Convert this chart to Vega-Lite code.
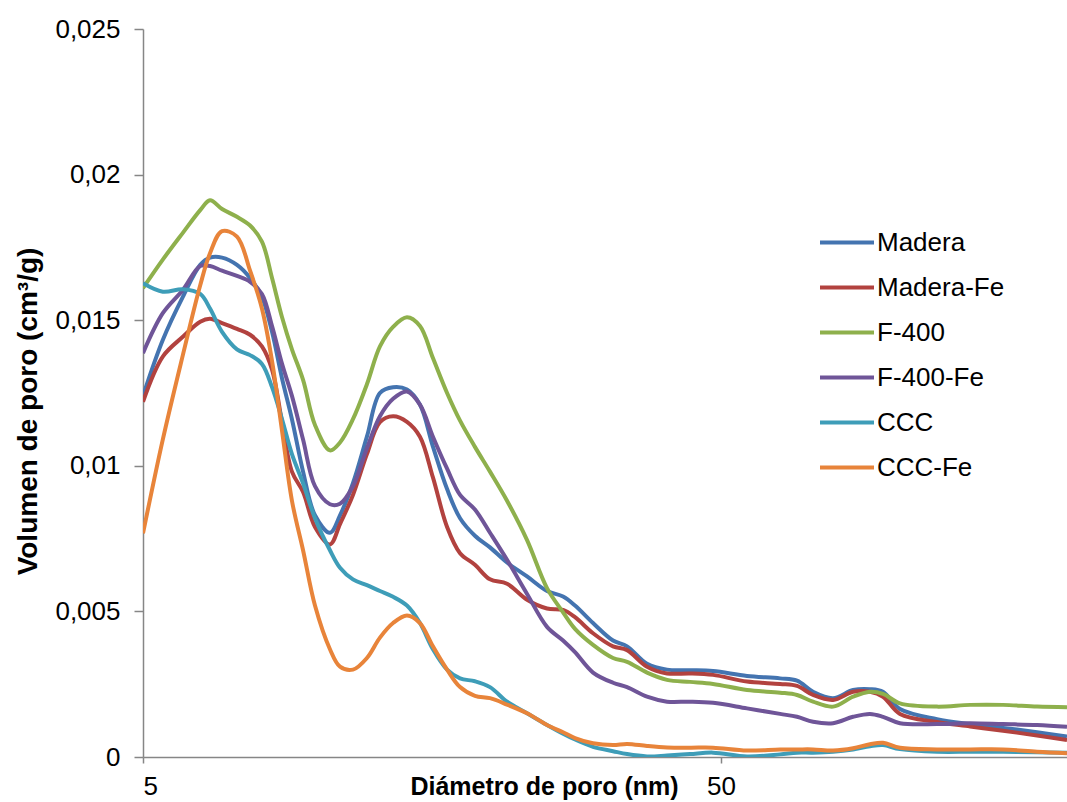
{
  "$schema": "https://vega.github.io/schema/vega-lite/v6.json",
  "width": 926,
  "height": 728,
  "autosize": {"type": "none"},
  "padding": {"left": 143, "top": 29, "right": 0, "bottom": 45},
  "background": "white",
  "config": {
    "view": {"stroke": null},
    "font": "Liberation Sans",
    "axis": {"grid": false, "domainColor": "#868686", "domainWidth": 1.5, "tickColor": "#868686", "tickWidth": 1.5, "labelColor": "black", "titleColor": "black", "labelFont": "Liberation Sans", "titleFont": "Liberation Sans"}
  },
  "data": {
    "values": [
      {"d": 5.00, "Madera": 0.0124, "Madera-Fe": 0.0122, "F-400": 0.0161, "F-400-Fe": 0.01387, "CCC": 0.01627, "CCC-Fe": 0.00768},
      {"d": 5.41, "Madera": 0.01432, "Madera-Fe": 0.01375, "F-400": 0.01708, "F-400-Fe": 0.01524, "CCC": 0.01598, "CCC-Fe": 0.0109},
      {"d": 5.86, "Madera": 0.0158, "Madera-Fe": 0.01443, "F-400": 0.018, "F-400-Fe": 0.01604, "CCC": 0.01606, "CCC-Fe": 0.0138},
      {"d": 6.28, "Madera": 0.0169, "Madera-Fe": 0.01495, "F-400": 0.01878, "F-400-Fe": 0.01686, "CCC": 0.0159, "CCC-Fe": 0.0162},
      {"d": 6.53, "Madera": 0.01715, "Madera-Fe": 0.01505, "F-400": 0.01912, "F-400-Fe": 0.01686, "CCC": 0.0154, "CCC-Fe": 0.0173},
      {"d": 6.85, "Madera": 0.01715, "Madera-Fe": 0.0149, "F-400": 0.01882, "F-400-Fe": 0.0167, "CCC": 0.0146, "CCC-Fe": 0.01806},
      {"d": 7.27, "Madera": 0.0169, "Madera-Fe": 0.0147, "F-400": 0.01855, "F-400-Fe": 0.01652, "CCC": 0.014, "CCC-Fe": 0.01787},
      {"d": 7.66, "Madera": 0.01645, "Madera-Fe": 0.0145, "F-400": 0.01825, "F-400-Fe": 0.01632, "CCC": 0.0138, "CCC-Fe": 0.0167},
      {"d": 8.03, "Madera": 0.0158, "Madera-Fe": 0.0141, "F-400": 0.0177, "F-400-Fe": 0.0159, "CCC": 0.0135, "CCC-Fe": 0.0154},
      {"d": 8.36, "Madera": 0.0146, "Madera-Fe": 0.0133, "F-400": 0.01645, "F-400-Fe": 0.0148, "CCC": 0.0127, "CCC-Fe": 0.0136},
      {"d": 8.70, "Madera": 0.013, "Madera-Fe": 0.0115, "F-400": 0.0151, "F-400-Fe": 0.0135, "CCC": 0.0116, "CCC-Fe": 0.0112},
      {"d": 9.05, "Madera": 0.0116, "Madera-Fe": 0.0098, "F-400": 0.014, "F-400-Fe": 0.0124, "CCC": 0.0104, "CCC-Fe": 0.0088},
      {"d": 9.46, "Madera": 0.0098, "Madera-Fe": 0.0091, "F-400": 0.01295, "F-400-Fe": 0.0109, "CCC": 0.0094, "CCC-Fe": 0.0071},
      {"d": 9.92, "Madera": 0.0083, "Madera-Fe": 0.0079, "F-400": 0.0114, "F-400-Fe": 0.0093, "CCC": 0.0082, "CCC-Fe": 0.0052},
      {"d": 10.53, "Madera": 0.0077, "Madera-Fe": 0.0073, "F-400": 0.01053, "F-400-Fe": 0.00868, "CCC": 0.0071, "CCC-Fe": 0.0037},
      {"d": 10.96, "Madera": 0.0083, "Madera-Fe": 0.008, "F-400": 0.0108, "F-400-Fe": 0.0087, "CCC": 0.0065, "CCC-Fe": 0.0031},
      {"d": 11.54, "Madera": 0.0094, "Madera-Fe": 0.009, "F-400": 0.0116, "F-400-Fe": 0.0093, "CCC": 0.0061, "CCC-Fe": 0.003},
      {"d": 12.20, "Madera": 0.011, "Madera-Fe": 0.0104, "F-400": 0.0128, "F-400-Fe": 0.0106, "CCC": 0.0059, "CCC-Fe": 0.0034},
      {"d": 12.85, "Madera": 0.0125, "Madera-Fe": 0.0115, "F-400": 0.0141, "F-400-Fe": 0.0117, "CCC": 0.0057, "CCC-Fe": 0.0041},
      {"d": 13.54, "Madera": 0.0127, "Madera-Fe": 0.0117, "F-400": 0.01477, "F-400-Fe": 0.0123, "CCC": 0.0055, "CCC-Fe": 0.0046},
      {"d": 14.31, "Madera": 0.01262, "Madera-Fe": 0.01151, "F-400": 0.0151, "F-400-Fe": 0.01255, "CCC": 0.0052, "CCC-Fe": 0.00486},
      {"d": 15.07, "Madera": 0.0121, "Madera-Fe": 0.011, "F-400": 0.0148, "F-400-Fe": 0.0121, "CCC": 0.0046, "CCC-Fe": 0.0046},
      {"d": 15.87, "Madera": 0.01066, "Madera-Fe": 0.0096, "F-400": 0.0137, "F-400-Fe": 0.011, "CCC": 0.0037, "CCC-Fe": 0.0038},
      {"d": 16.79, "Madera": 0.0092, "Madera-Fe": 0.0079, "F-400": 0.0125, "F-400-Fe": 0.0099, "CCC": 0.003, "CCC-Fe": 0.003},
      {"d": 17.68, "Madera": 0.0082, "Madera-Fe": 0.007, "F-400": 0.01155, "F-400-Fe": 0.009, "CCC": 0.0027, "CCC-Fe": 0.0024},
      {"d": 18.76, "Madera": 0.0076, "Madera-Fe": 0.0066, "F-400": 0.01065, "F-400-Fe": 0.0085, "CCC": 0.0026, "CCC-Fe": 0.0021},
      {"d": 19.92, "Madera": 0.0072, "Madera-Fe": 0.0061, "F-400": 0.0098, "F-400-Fe": 0.0077, "CCC": 0.0024, "CCC-Fe": 0.00202},
      {"d": 21.32, "Madera": 0.00668, "Madera-Fe": 0.00595, "F-400": 0.0088, "F-400-Fe": 0.00677, "CCC": 0.0019, "CCC-Fe": 0.0018},
      {"d": 23.09, "Madera": 0.0062, "Madera-Fe": 0.0054, "F-400": 0.00745, "F-400-Fe": 0.0056, "CCC": 0.0015, "CCC-Fe": 0.0015},
      {"d": 25.00, "Madera": 0.0057, "Madera-Fe": 0.0051, "F-400": 0.0058, "F-400-Fe": 0.00447, "CCC": 0.0011, "CCC-Fe": 0.0011},
      {"d": 26.65, "Madera": 0.00551, "Madera-Fe": 0.00505, "F-400": 0.00497, "F-400-Fe": 0.004, "CCC": 0.0008, "CCC-Fe": 0.00085},
      {"d": 27.95, "Madera": 0.0052, "Madera-Fe": 0.0048, "F-400": 0.0044, "F-400-Fe": 0.0036, "CCC": 0.0006, "CCC-Fe": 0.00065},
      {"d": 30.03, "Madera": 0.0046, "Madera-Fe": 0.00425, "F-400": 0.00385, "F-400-Fe": 0.0029, "CCC": 0.00035, "CCC-Fe": 0.00047},
      {"d": 32.52, "Madera": 0.004, "Madera-Fe": 0.0038, "F-400": 0.0034, "F-400-Fe": 0.00255, "CCC": 0.0002, "CCC-Fe": 0.00041},
      {"d": 34.39, "Madera": 0.0038, "Madera-Fe": 0.00367, "F-400": 0.00327, "F-400-Fe": 0.0024, "CCC": 0.0001, "CCC-Fe": 0.00045},
      {"d": 37.24, "Madera": 0.0032, "Madera-Fe": 0.0031, "F-400": 0.0029, "F-400-Fe": 0.00207, "CCC": 0.00002, "CCC-Fe": 0.00038},
      {"d": 40.32, "Madera": 0.003, "Madera-Fe": 0.00287, "F-400": 0.00265, "F-400-Fe": 0.0019, "CCC": 0.00005, "CCC-Fe": 0.00033},
      {"d": 44.21, "Madera": 0.00298, "Madera-Fe": 0.00287, "F-400": 0.00258, "F-400-Fe": 0.0019, "CCC": 0.0001, "CCC-Fe": 0.00032},
      {"d": 48.44, "Madera": 0.00295, "Madera-Fe": 0.00282, "F-400": 0.00251, "F-400-Fe": 0.00186, "CCC": 0.00015, "CCC-Fe": 0.00032},
      {"d": 55.46, "Madera": 0.00278, "Madera-Fe": 0.00259, "F-400": 0.0023, "F-400-Fe": 0.00167, "CCC": 0.00002, "CCC-Fe": 0.00022},
      {"d": 63.26, "Madera": 0.0027, "Madera-Fe": 0.00251, "F-400": 0.00221, "F-400-Fe": 0.00148, "CCC": 0.00009, "CCC-Fe": 0.00026},
      {"d": 67.68, "Madera": 0.00262, "Madera-Fe": 0.00244, "F-400": 0.00213, "F-400-Fe": 0.00138, "CCC": 0.00015, "CCC-Fe": 0.00026},
      {"d": 72.15, "Madera": 0.00224, "Madera-Fe": 0.00213, "F-400": 0.0019, "F-400-Fe": 0.00121, "CCC": 0.00015, "CCC-Fe": 0.00026},
      {"d": 78.13, "Madera": 0.00202, "Madera-Fe": 0.00196, "F-400": 0.00173, "F-400-Fe": 0.00116, "CCC": 0.00018, "CCC-Fe": 0.00022},
      {"d": 84.62, "Madera": 0.0023, "Madera-Fe": 0.00224, "F-400": 0.00207, "F-400-Fe": 0.00138, "CCC": 0.00026, "CCC-Fe": 0.0003},
      {"d": 90.52, "Madera": 0.00233, "Madera-Fe": 0.00224, "F-400": 0.00224, "F-400-Fe": 0.00148, "CCC": 0.00037, "CCC-Fe": 0.00044},
      {"d": 95.33, "Madera": 0.00224, "Madera-Fe": 0.00207, "F-400": 0.00217, "F-400-Fe": 0.00138, "CCC": 0.00041, "CCC-Fe": 0.00049},
      {"d": 102.0, "Madera": 0.00165, "Madera-Fe": 0.00148, "F-400": 0.00184, "F-400-Fe": 0.00116, "CCC": 0.00027, "CCC-Fe": 0.00032},
      {"d": 118.2, "Madera": 0.0013, "Madera-Fe": 0.0012, "F-400": 0.00173, "F-400-Fe": 0.00113, "CCC": 0.00018, "CCC-Fe": 0.00026},
      {"d": 134.9, "Madera": 0.00113, "Madera-Fe": 0.00105, "F-400": 0.00179, "F-400-Fe": 0.00116, "CCC": 0.00018, "CCC-Fe": 0.00026},
      {"d": 153.8, "Madera": 0.001, "Madera-Fe": 0.0009, "F-400": 0.00179, "F-400-Fe": 0.00113, "CCC": 0.00018, "CCC-Fe": 0.00026},
      {"d": 176.1, "Madera": 0.00085, "Madera-Fe": 0.00074, "F-400": 0.00173, "F-400-Fe": 0.0011, "CCC": 0.00016, "CCC-Fe": 0.00018},
      {"d": 198.4, "Madera": 0.0007, "Madera-Fe": 0.00058, "F-400": 0.00171, "F-400-Fe": 0.00104, "CCC": 0.00015, "CCC-Fe": 0.00013}
    ]
  },
  "transform": [
    {"fold": ["Madera", "Madera-Fe", "F-400", "F-400-Fe", "CCC", "CCC-Fe"], "as": ["serie", "v"]}
  ],
  "mark": {"type": "line", "interpolate": "catmull-rom", "strokeWidth": 4, "clip": true},
  "encoding": {
    "x": {
      "field": "d", "type": "quantitative",
      "scale": {"type": "log", "domain": [5, 200], "nice": false},
      "axis": {
        "values": [5, 50], "format": "d", "title": "Diámetro de poro (nm)",
        "labelFontSize": 26, "labelPadding": 10, "tickSize": 6,
        "titleFontSize": 25, "titleFontWeight": "bold",
        "titleX": 401, "titleY": 37, "titleAlign": "center", "titleBaseline": "alphabetic"
      }
    },
    "y": {
      "field": "v", "type": "quantitative",
      "scale": {"domain": [0, 0.025], "nice": false, "zero": true},
      "axis": {
        "values": [0, 0.005, 0.01, 0.015, 0.02, 0.025],
        "labelExpr": "replace(toString(datum.value), '.', ',')",
        "labelFontSize": 26, "labelPadding": 14, "tickSize": 9,
        "title": "Volumen de poro (cm³/g)",
        "titleFontSize": 28, "titleFontWeight": "bold",
        "titleX": -115, "titleY": 382, "titleAlign": "center", "titleBaseline": "middle", "titleAngle": -90
      }
    },
    "color": {
      "field": "serie", "type": "nominal",
      "scale": {
        "domain": ["Madera", "Madera-Fe", "F-400", "F-400-Fe", "CCC", "CCC-Fe"],
        "range": ["#4474B0", "#B2423F", "#8EB04C", "#6F5598", "#3E9DB8", "#E8843A"]
      },
      "legend": {
        "orient": "none", "legendX": 675, "legendY": 191, "title": null,
        "symbolType": "stroke", "symbolSize": 2916, "symbolStrokeWidth": 4,
        "labelFontSize": 26, "labelFont": "Liberation Sans", "labelColor": "black",
        "labelOffset": 1, "rowPadding": 0, "padding": 0, "clipHeight": 45
      }
    }
  }
}
